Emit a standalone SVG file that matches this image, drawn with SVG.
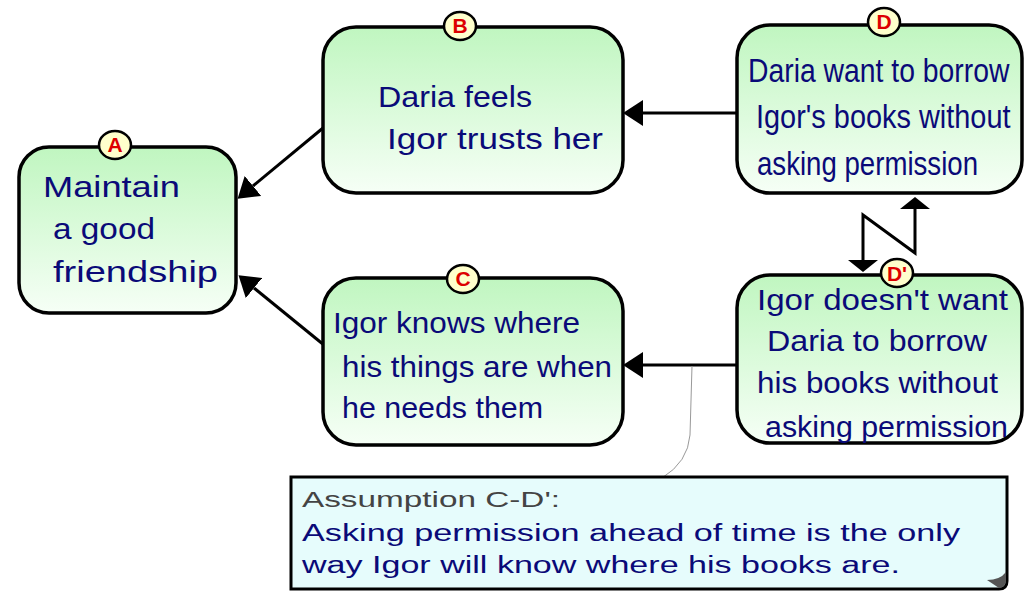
<svg xmlns="http://www.w3.org/2000/svg" width="1025" height="592" viewBox="0 0 1025 592">
  <style>
    .box { fill: url(#nodeFill); stroke: #000; stroke-width: 3.5; }
    .badge { fill: #ffffcc; stroke: #000; stroke-width: 2.5; }
    .tag { font-family: 'Comic Sans MS', 'Liberation Sans', sans-serif; font-weight: bold; font-size: 21px; fill: #dd0000; text-anchor: middle; }
    .txt { font-family: 'Comic Sans MS', 'Liberation Sans', sans-serif; font-size: 30px; fill: #0a0a78; }
    .big { font-size: 33px; }
    .note-title { font-family: 'Comic Sans MS', 'Liberation Sans', sans-serif; font-size: 22px; fill: #444; }
    .note-txt { font-family: 'Comic Sans MS', 'Liberation Sans', sans-serif; font-size: 23px; fill: #0a0a78; }
    .link { fill: none; stroke: #000; stroke-width: 3; }
  </style>
  <defs>
    <linearGradient id="nodeFill" x1="0" y1="0" x2="0" y2="1">
      <stop offset="0" stop-color="#c0f6c0"/>
      <stop offset="1" stop-color="#f6fff6"/>
    </linearGradient>
    <marker id="arrow" viewBox="0 0 20 26" refX="0" refY="13" markerWidth="20" markerHeight="26" markerUnits="userSpaceOnUse" orient="auto-start-reverse">
      <path d="M0,0 L20,13 L0,26 Z" fill="#000"/>
    </marker>
    <marker id="flat" viewBox="0 0 12 30" refX="0" refY="15" markerWidth="12" markerHeight="30" markerUnits="userSpaceOnUse" orient="auto-start-reverse">
      <path d="M0,0 L12,15 L0,30 Z" fill="#000"/>
    </marker>
  </defs>

  <rect width="1025" height="592" fill="#fff"/>

  <!-- connectors -->
  <g id="connectors">
    <path class="link" d="M323,128 L253,186" marker-end="url(#arrow)"/>
    <path class="link" d="M324,345 L254,288" marker-end="url(#arrow)"/>
    <path class="link" d="M737,113 L643,113" marker-end="url(#arrow)"/>
    <path class="link" d="M737,365 L643,365" marker-end="url(#arrow)"/>
    <path class="link" d="M863,260 L863,215 L915,253 L915,209" marker-start="url(#flat)" marker-end="url(#flat)"/>
    <path d="M692,366 L690,435 Q688,462 662,478" fill="none" stroke="#999" stroke-width="1"/>
  </g>

  <!-- A -->
  <g id="node-A">
    <rect class="box" x="19" y="147" width="217" height="166" rx="30"/>
    <text class="txt" x="43" y="197" textLength="137" lengthAdjust="spacingAndGlyphs">Maintain</text>
    <text class="txt" x="53" y="239" textLength="102" lengthAdjust="spacingAndGlyphs">a good</text>
    <text class="txt" x="53" y="282" textLength="165" lengthAdjust="spacingAndGlyphs">friendship</text>
    <ellipse class="badge" cx="115" cy="145" rx="16" ry="14"/>
    <text class="tag" x="115" y="152">A</text>
  </g>

  <!-- B -->
  <g id="node-B">
    <rect class="box" x="323" y="27" width="300" height="166" rx="33"/>
    <text class="txt" x="378" y="107" textLength="154" lengthAdjust="spacingAndGlyphs">Daria feels</text>
    <text class="txt" x="387" y="149" textLength="216" lengthAdjust="spacingAndGlyphs">Igor trusts her</text>
    <ellipse class="badge" cx="460" cy="26" rx="16" ry="14"/>
    <text class="tag" x="460" y="33">B</text>
  </g>

  <!-- C -->
  <g id="node-C">
    <rect class="box" x="323" y="278" width="300" height="167" rx="33"/>
    <text class="txt" x="333" y="333" textLength="247" lengthAdjust="spacingAndGlyphs">Igor knows where</text>
    <text class="txt" x="342" y="377" textLength="270" lengthAdjust="spacingAndGlyphs">his things are when</text>
    <text class="txt" x="342" y="418" textLength="201" lengthAdjust="spacingAndGlyphs">he needs them</text>
    <ellipse class="badge" cx="463" cy="279" rx="16" ry="14"/>
    <text class="tag" x="463" y="286">C</text>
  </g>

  <!-- D: taller, narrower lettering -->
  <g id="node-D">
    <rect class="box" x="737" y="25" width="285" height="168" rx="33"/>
    <text class="txt big" transform="translate(748,82) scale(0.86,1)" textLength="304" lengthAdjust="spacingAndGlyphs">Daria want to borrow</text>
    <text class="txt big" transform="translate(756,128) scale(0.86,1)" textLength="296" lengthAdjust="spacingAndGlyphs">Igor's books without</text>
    <text class="txt big" transform="translate(757,175) scale(0.86,1)" textLength="257" lengthAdjust="spacingAndGlyphs">asking permission</text>
    <ellipse class="badge" cx="884" cy="22" rx="16" ry="14"/>
    <text class="tag" x="884" y="29" font-weight="normal">D</text>
  </g>

  <!-- D' -->
  <g id="node-Dp">
    <rect class="box" x="737" y="275" width="285" height="168" rx="33"/>
    <text class="txt" x="757" y="310" textLength="251" lengthAdjust="spacingAndGlyphs">Igor doesn't want</text>
    <text class="txt" x="767" y="351" textLength="220" lengthAdjust="spacingAndGlyphs">Daria to borrow</text>
    <text class="txt" x="757" y="393" textLength="241" lengthAdjust="spacingAndGlyphs">his books without</text>
    <text class="txt" x="765" y="437" textLength="243" lengthAdjust="spacingAndGlyphs">asking permission</text>
    <ellipse class="badge" cx="897" cy="273" rx="16" ry="14"/>
    <text class="tag" x="897" y="281" font-weight="normal" font-size="22">D'</text>
  </g>

  <!-- assumption note -->
  <g id="note-assumption">
    <path d="M291,477 L1007,477 L1007,581 Q1007,589 999,589 L291,589 Z" fill="#e6fcfc" stroke="#000" stroke-width="3"/>
    <path d="M987,580 Q1000,580 1006,572 L1006,582 Q1004,588 999,588 Z" fill="#555"/>
    <text class="note-title" x="302" y="507" textLength="258" lengthAdjust="spacingAndGlyphs">Assumption C-D':</text>
    <text class="note-txt" x="302" y="541" textLength="658" lengthAdjust="spacingAndGlyphs">Asking permission ahead of time is the only</text>
    <text class="note-txt" x="302" y="573" textLength="598" lengthAdjust="spacingAndGlyphs">way Igor will know where his books are.</text>
  </g>
</svg>
